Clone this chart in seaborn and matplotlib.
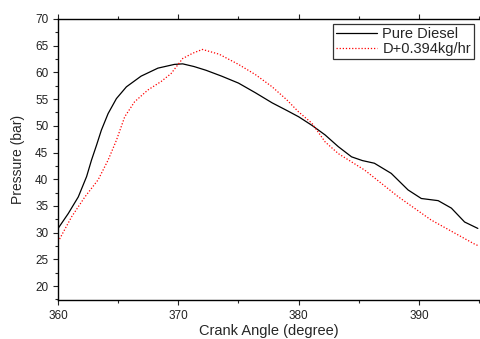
import matplotlib.pyplot as plt
import seaborn as sns
import pandas as pd

# values
diesel_angle = [360.0, 360.85, 361.68, 362.37, 362.78, 363.2, 363.6, 364.16, 364.85, 365.68,
                366.9, 368.3, 369.67, 370.36, 371.3, 372.3, 373.6, 375.0, 376.4, 377.8,
                379.0, 380.0, 381.1, 382.2, 383.3, 384.4, 385.3, 386.3, 387.7, 389.1,
                390.2, 391.6, 392.7, 393.8, 394.9]
diesel_pressure = [30.8, 33.6, 36.7, 40.5, 43.6, 46.4, 49.2, 52.3, 55.1, 57.3,
                   59.3, 60.8, 61.5, 61.6, 61.1, 60.4, 59.3, 58.0, 56.2, 54.3,
                   52.9, 51.7, 50.1, 48.3, 46.1, 44.2, 43.5, 43.0, 41.1, 38.0,
                   36.4, 36.0, 34.6, 32.0, 30.8]

blend_angle = [360.0, 361.13, 362.23, 363.33, 364.16, 364.85, 365.54, 366.36, 367.46, 368.57,
               369.4, 370.36, 371.2, 372.0, 373.4, 375.0, 376.4, 377.8, 379.0, 380.0,
               381.1, 382.2, 383.3, 385.5, 388.3, 391.0, 394.6, 395.0]
blend_pressure = [28.3, 33.0, 36.7, 39.9, 43.6, 47.3, 51.7, 54.5, 56.7, 58.3,
                  59.8, 62.6, 63.6, 64.3, 63.4, 61.5, 59.6, 57.3, 54.9, 52.6,
                  50.5, 47.0, 44.8, 41.7, 36.7, 32.4, 27.9, 27.5]

series_names = ["Pure Diesel", "D+0.394kg/hr"]

df = pd.concat([
    pd.DataFrame({"angle": diesel_angle, "pressure": diesel_pressure, "fuel": series_names[0]}),
    pd.DataFrame({"angle": blend_angle, "pressure": blend_pressure, "fuel": series_names[1]}),
])

sns.set_style("ticks")
plt.rcParams["font.family"] = ["Liberation Sans", "DejaVu Sans"]

fig = plt.figure(figsize=(4.8, 3.39), dpi=100)
ax = fig.add_axes([0.121, 0.115, 0.877, 0.829])

sns.lineplot(data=df, x="angle", y="pressure", hue="fuel", style="fuel",
             palette={series_names[0]: "black", series_names[1]: "red"},
             dashes={series_names[0]: "", series_names[1]: (1, 1.5)},
             linewidth=0.9, sort=False, ax=ax)

ax.set_xlim(360, 395)
ax.set_ylim(17.4, 70)
ax.set_xticks([360, 370, 380, 390])
ax.set_xticks([365, 375, 385, 395], minor=True)
ax.set_yticks(range(20, 71, 5))
ax.set_yticks([x + 2.5 for x in range(15, 70, 5)], minor=True)
ax.tick_params(labelsize=8.5, length=3.5, width=0.8, colors="#222222")
ax.tick_params(which="minor", length=2, width=0.8)
ax.tick_params(top=True, which="both", direction="in")
ax.tick_params(bottom=True, left=True, which="both", direction="out")
for s in ax.spines.values():
    s.set_linewidth(1)
    s.set_color("black")
ax.spines["right"].set_visible(False)

ax.set_xlabel("Crank Angle (degree)", fontsize=10.5, labelpad=1.5)
ax.set_ylabel("Pressure (bar)", fontsize=10, labelpad=7)

leg = ax.legend(loc="upper right", fontsize=10.5, frameon=True, fancybox=False,
                edgecolor="black", handlelength=2.8, borderpad=0.2, labelspacing=0.1,
                borderaxespad=0.35, handletextpad=0.4)
leg.get_frame().set_linewidth(0.9)

plt.savefig("out.png", dpi=100)
